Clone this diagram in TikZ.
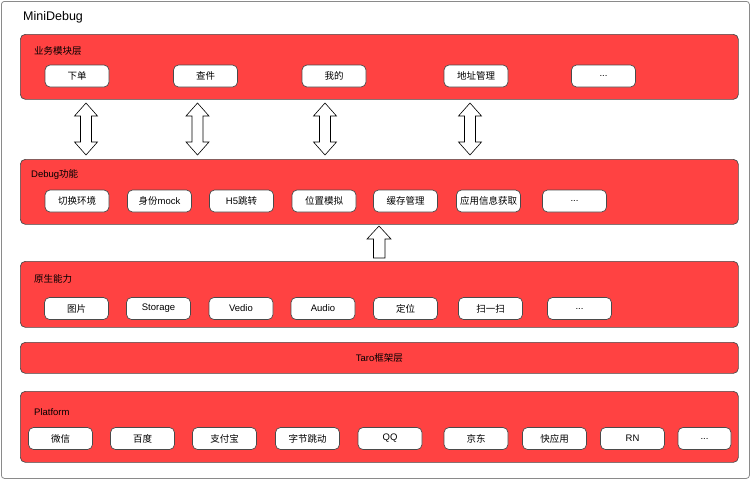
\documentclass[tikz,border=0pt]{standalone}
\usepackage{fontspec}
\setmainfont{Liberation Sans}
\newfontfamily\cjk{Noto Sans CJK SC}
\definecolor{layerred}{HTML}{FF4242}
\definecolor{edgegray}{HTML}{4A4A4A}
\definecolor{framegray}{HTML}{8A8A8A}
\begin{document}
\begin{tikzpicture}[x=1pt,y=-1pt,
  layerbox/.style={draw=edgegray, line width=0.7pt, fill=layerred, rounded corners=5pt, anchor=north west, inner sep=0pt, minimum width=718pt},
  itembox/.style={draw=edgegray, line width=0.7pt, fill=white, rounded corners=5pt, minimum width=64pt, minimum height=22pt, inner sep=0pt, font=\fontsize{9.5}{10}\selectfont},
  layerlabel/.style={anchor=west, inner sep=0pt, font=\fontsize{9.5}{11}\selectfont},
  blockarrow/.style={draw=black, line width=0.6pt, fill=white, line join=miter}
]
\useasboundingbox (0,0) rectangle (750,479);
\node[draw=framegray, line width=0.8pt, rounded corners=3pt, anchor=north west, minimum width=748pt, minimum height=477pt, inner sep=0pt] (frame) at (1,1) {};
\node[anchor=west, inner sep=0pt, font=\fontsize{12.5}{14}\selectfont] (title) at (23,17) {MiniDebug};

% layers
\node[layerbox, minimum height=65pt] (L1) at (20,34) {};
\node[layerbox, minimum height=65pt] (L2) at (20,159) {};
\node[layerbox, minimum height=66pt] (L3) at (20,261) {};
\node[layerbox, minimum height=31pt] (L4) at (20,342) {};
\node[layerbox, minimum height=71pt] (L5) at (20,391) {};

\node[layerlabel] (t1) at (34,51) {\cjk 业务模块层};
\node[layerlabel] (t2) at (31,174) {Debug{\cjk 功能}};
\node[layerlabel] (t3) at (34,279) {\cjk 原生能力};
\node[inner sep=0pt, font=\fontsize{9.5}{11}\selectfont] (t4) at (L4.center) {Taro{\cjk 框架层}};
\node[layerlabel] (t5) at (34,412) {Platform};

% layer 1 items
\node[itembox] (a1) at (77,76) {\cjk 下单};
\node[itembox] (a2) at (205.5,76) {\cjk 查件};
\node[itembox] (a3) at (334,76) {\cjk 我的};
\node[itembox] (a4) at (476,76) {\cjk 地址管理};
\node[itembox] (a5) at (603.5,76) {...};

% layer 2 items
\node[itembox] (b1) at (77,201) {\cjk 切换环境};
\node[itembox] (b2) at (159.5,201) {{\cjk 身份}mock};
\node[itembox] (b3) at (241.5,201) {H5{\cjk 跳转}};
\node[itembox] (b4) at (324,201) {\cjk 位置模拟};
\node[itembox] (b5) at (405.5,201) {\cjk 缓存管理};
\node[itembox] (b6) at (488.5,201) {\cjk 应用信息获取};
\node[itembox] (b7) at (574.5,201) {...};

% layer 3 items
\node[itembox] (c1) at (76.5,308.5) {\cjk 图片};
\node[itembox] (c2) at (158.5,308.5) {Storage};
\node[itembox] (c3) at (241,308.5) {Vedio};
\node[itembox] (c4) at (323,308.5) {Audio};
\node[itembox] (c5) at (405.5,308.5) {\cjk 定位};
\node[itembox] (c6) at (490.5,308.5) {\cjk 扫一扫};
\node[itembox] (c7) at (579.5,308.5) {...};

% layer 5 items
\node[itembox] (d1) at (60.5,438.5) {\cjk 微信};
\node[itembox] (d2) at (142.5,438.5) {\cjk 百度};
\node[itembox] (d3) at (224.5,438.5) {\cjk 支付宝};
\node[itembox] (d4) at (307.5,438.5) {\cjk 字节跳动};
\node[itembox] (d5) at (390,438.5) {QQ};
\node[itembox] (d6) at (476,438.5) {\cjk 京东};
\node[itembox] (d7) at (554.5,438.5) {\cjk 快应用};
\node[itembox] (d8) at (632.5,438.5) {RN};
\node[itembox, minimum width=53pt] (d9) at (704.5,438.5) {...};

% double block arrows between layer 1 and layer 2
\foreach \cx in {86,197.5,325,470}{
  \draw[blockarrow] (\cx,103) -- (\cx+11.5,116) -- (\cx+5.5,116) -- (\cx+5.5,142) -- (\cx+11.5,142)
    -- (\cx,155) -- (\cx-11.5,142) -- (\cx-5.5,142) -- (\cx-5.5,116) -- (\cx-11.5,116) -- cycle;
}
% single up arrow from layer 3 to layer 2
\draw[blockarrow] (379,226) -- (391,239) -- (385,239) -- (385,258) -- (373.5,258) -- (373.5,239) -- (367,239) -- cycle;
\end{tikzpicture}
\end{document}
